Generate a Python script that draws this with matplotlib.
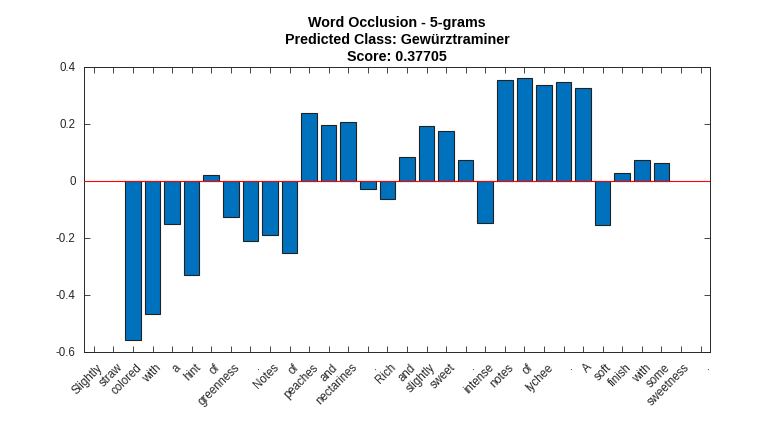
import numpy as np
import matplotlib
matplotlib.use("Agg")
from matplotlib import pyplot as plt
from matplotlib.transforms import ScaledTranslation

plt.rcParams["font.family"] = ["Liberation Sans", "DejaVu Sans"]

words = ["Slightly", "straw", "colored", "with", "a", "hint", "of", "greenness", ".",
         "Notes", "of", "peaches", "and", "nectarines", ".", "Rich", "and", "slightly",
         "sweet", ".", "intense", "notes", "of", "lychee", ".", "A", "soft", "finish",
         "with", "some", "sweetness", "."]

# occlusion score change per 5-gram, starting at word 3
bar_start = 3
scores = [-0.557, -0.466, -0.150, -0.331, 0.021, -0.127, -0.212, -0.191, -0.252,
          0.240, 0.196, 0.208, -0.028, -0.065, 0.085, 0.193, 0.175, 0.073, -0.146,
          0.353, 0.363, 0.336, 0.346, 0.325, -0.154, 0.029, 0.073, 0.062]

fig = plt.figure(figsize=(7.78, 4.24), dpi=100)
ax = fig.add_axes([0.108, 0.170, 0.805, 0.672])

xpos = np.arange(bar_start, bar_start + len(scores))
ax.bar(xpos, scores, width=0.8, color=(0, 0.447, 0.741), edgecolor="#222222", linewidth=0.8, zorder=2)
ax.axhline(0, color="red", linewidth=0.8, zorder=3)

ax.set_xlim(0.5, len(words) + 0.5)
ax.set_ylim(-0.6, 0.4)
ax.set_yticks([-0.6, -0.4, -0.2, 0, 0.2, 0.4])
ax.set_yticklabels(["-0.6", "-0.4", "-0.2", "0", "0.2", "0.4"])
ax.set_xticks(np.arange(1, len(words) + 1))
ax.set_xticklabels(words, rotation=45, ha="right", va="top", rotation_mode="anchor")

ax.tick_params(direction="in", length=4, width=0.6, top=True, right=True,
               labelsize=8.3, colors="#262626", pad=6)
ax.tick_params(axis="x", pad=7)
shift = ScaledTranslation(3 / 100, 0, fig.dpi_scale_trans)
for lab in ax.get_xticklabels():
    lab.set_transform(lab.get_transform() + shift)
for s in ax.spines.values():
    s.set_linewidth(0.7)
    s.set_color("#262626")

ax.set_title("Word Occlusion - 5-grams\nPredicted Class: Gewürztraminer\nScore: 0.37705",
             fontsize=10.3, fontweight="bold", linespacing=1.3, pad=4)

plt.savefig("out.png", dpi=100)
